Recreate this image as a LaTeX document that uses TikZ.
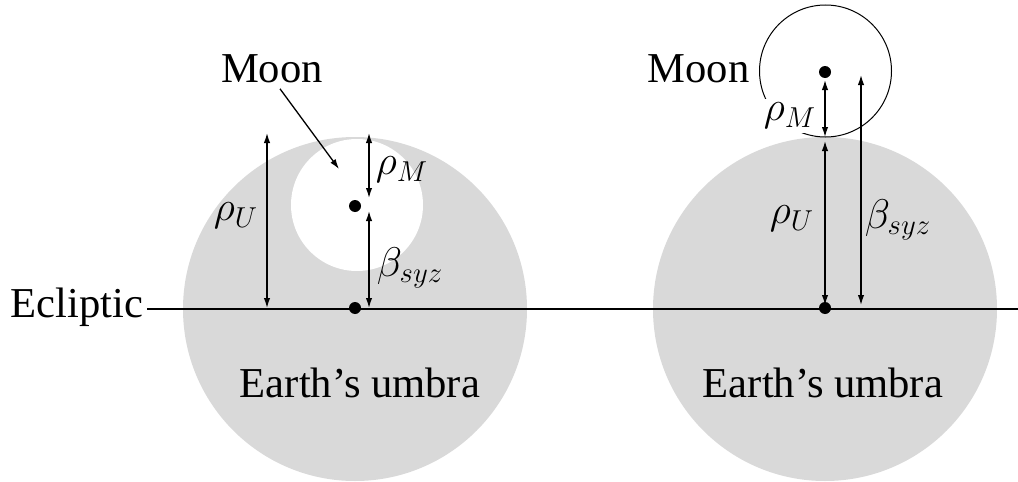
\documentclass[tikz,border=0pt]{standalone}
\usepackage[no-math]{fontspec}
\setmainfont{Liberation Serif}
\usetikzlibrary{arrows.meta}
\begin{document}
\begin{tikzpicture}[x=0.5pt,y=-0.5pt,
  umbra/.style={circle,fill=black!15,minimum size=172pt,inner sep=0pt},
  moonw/.style={circle,fill=white,minimum size=66pt,inner sep=0pt},
  moono/.style={circle,draw=black,line width=0.5pt,minimum size=66pt,inner sep=0pt},
  dot/.style={circle,fill=black,minimum size=6pt,inner sep=0pt},
  tip/.style={Latex[length=5pt,width=3.2pt]},
  dim/.style={{Latex[length=5pt,width=3.2pt]}-{Latex[length=5pt,width=3.2pt]},line width=0.65pt},
  lbl/.style={font=\fontsize{21.3}{25}\selectfont,inner sep=1pt},
  mlbl/.style={font=\fontsize{20.5}{24}\selectfont,inner sep=1pt}]
\useasboundingbox (0,0) rectangle (1018,482);
% umbras
\node[umbra] (U1) at (355,309) {};
\node[umbra] (U2) at (825,309) {};
\node[moonw] (M1) at (357,205) {};
\node[moono] (M2) at (825.5,71) {};
% ecliptic
\node[lbl,anchor=base west,inner sep=0pt] (ecl) at (10,317) {Ecliptic};
\coordinate (eclend) at (1018,309);
\draw[line width=0.65pt] (ecl.east |- eclend) ++(4,0) -- (eclend);
% dots
\node[dot] (c1) at (355,308) {};
\node[dot] (m1) at (355,206) {};
\node[dot] (c2) at (825,308) {};
\node[dot] (m2) at (825,72) {};
% left dimension ends
\coordinate (l1t) at (267,133);
\coordinate (l1b) at (267,308);
\coordinate (l2t) at (369,133);
\coordinate (l2m) at (369,198);
\coordinate (l3t) at (369,211);
\coordinate (l3b) at (369,308);
\draw[dim] (l1t) -- (l1b);
\draw[dim] (l2t) -- (l2m);
\draw[dim] (l3t) -- (l3b);
% right dimension ends
\coordinate (r1t) at (825,80);
\coordinate (r1b) at (825,137);
\coordinate (r2t) at (825,141);
\coordinate (r2b) at (825,305);
\coordinate (r3t) at (861,75);
\coordinate (r3b) at (861,305);
\draw[dim] (r1t) -- (r1b);
\draw[dim] (r2t) -- (r2b);
\draw[dim] (r3t) -- (r3b);
% labels
\node[mlbl] (lrU) at (236,216) {$\rho_U$};
\node[mlbl] (lrM) at (402,170) {$\rho_M$};
\node[mlbl] (lb) at (410,268) {$\beta_{syz}$};
\node[mlbl,fill=white,inner sep=2pt] (rrM) at (790,116) {$\rho_M$};
\node[mlbl] (rrU) at (792,219) {$\rho_U$};
\node[mlbl] (rb) at (898,220) {$\beta_{syz}$};
\node[lbl,anchor=base] (e1) at (360,397) {Earth’s umbra};
\node[lbl,anchor=base] (e2) at (823,397) {Earth’s umbra};
\node[lbl,anchor=base] (moonL) at (272,82) {Moon};
\node[lbl,anchor=base east,inner sep=0pt] (moonR) at (750,82) {Moon};
\coordinate (marrow) at (339,169);
\draw[-{Latex[length=5pt,width=3.2pt]},line width=0.65pt] (moonL.south) ++(8,4) -- (marrow);
\end{tikzpicture}
\end{document}
